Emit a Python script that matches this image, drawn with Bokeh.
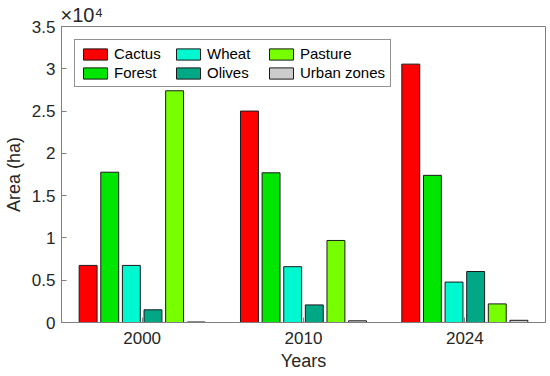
from bokeh.plotting import figure
from bokeh.models import ColumnDataSource, Legend, LegendItem, Title, FixedTicker
from bokeh.transform import dodge
from bokeh.embed import file_html
from bokeh.resources import INLINE

years = ["2000", "2010", "2024"]
series = ["Cactus", "Forest", "Wheat", "Olives", "Pasture", "Urban zones"]
cactus = [6750, 25000, 30550]
forest = [17770, 17700, 17400]
wheat = [6750, 6600, 4780]
olives = [1500, 2080, 6030]
pasture = [27400, 9700, 2200]
urban = [60, 200, 260]
colors = ["#ff0000", "#00e600", "#00f8d0", "#00a886", "#77ff00", "#cccccc"]

FONT = "Liberation Sans"
TXT = "#262626"
AX = "#7f7f7f"

src = ColumnDataSource(dict(years=years, Cactus=cactus, Forest=forest, Wheat=wheat,
                            Olives=olives, Pasture=pasture, Urban=urban))
cols = ["Cactus", "Forest", "Wheat", "Olives", "Pasture", "Urban"]

p = figure(x_range=years, y_range=(0, 35000), width=550, height=376,
           output_backend="svg", toolbar_location=None,
           min_border_left=58, min_border_right=5, min_border_top=26, min_border_bottom=54)
p.x_range.range_padding = 0
p.xgrid.visible = False
p.ygrid.visible = False
p.outline_line_color = AX
p.outline_line_width = 1

pitch = 0.134
renderers = []
for i, c in enumerate(cols):
    r = p.vbar(x=dodge("years", (i - 2.5) * pitch, range=p.x_range), top=c, width=0.111,
               source=src, fill_color=colors[i], line_color="#1a1a1a", line_width=1)
    renderers.append(r)

items = [LegendItem(label=series[i], renderers=[renderers[i]]) for i in range(6)]
leg = Legend(items=items, location="top_left", orientation="vertical", ncols=3,
             label_text_font=FONT, label_text_font_size="15px", label_text_color="#000000",
             glyph_width=30, glyph_height=14, label_standoff=4, spacing=2,
             label_width=57, label_height=14,
             padding=5, margin=13, border_line_color="#262626", border_line_width=1,
             background_fill_alpha=1)
p.add_layout(leg, "center")

for ax in (p.xaxis, p.yaxis):
    ax.axis_line_color = AX
    ax.major_tick_line_color = AX
    ax.major_tick_in = 5
    ax.major_tick_out = 0
    ax.minor_tick_line_color = None
    ax.major_label_text_font = FONT
    ax.major_label_text_font_size = "17px"
    ax.major_label_text_color = TXT
    ax.axis_label_text_font = FONT
    ax.axis_label_text_font_size = "18px"
    ax.axis_label_text_color = TXT
    ax.axis_label_text_font_style = "normal"

p.xaxis.axis_label = "Years"
p.yaxis.axis_label = "Area (ha)"
p.yaxis.ticker = FixedTicker(ticks=[0, 5000, 10000, 15000, 20000, 25000, 30000, 35000])
p.yaxis.major_label_overrides = {0: "0", 5000: "0.5", 10000: "1", 15000: "1.5", 20000: "2",
                                 25000: "2.5", 30000: "3", 35000: "3.5"}
p.yaxis.major_label_standoff = 6
p.yaxis.axis_label_standoff = 5
p.xaxis.major_label_standoff = 9
p.xaxis.axis_label_standoff = 4

p.add_layout(Title(text="×10⁴", align="left", offset=-1, standoff=2,
                   text_font=FONT, text_font_size="20px", text_color=TXT,
                   text_font_style="normal"), "above")

open("out.html", "w").write(file_html(p, INLINE))
